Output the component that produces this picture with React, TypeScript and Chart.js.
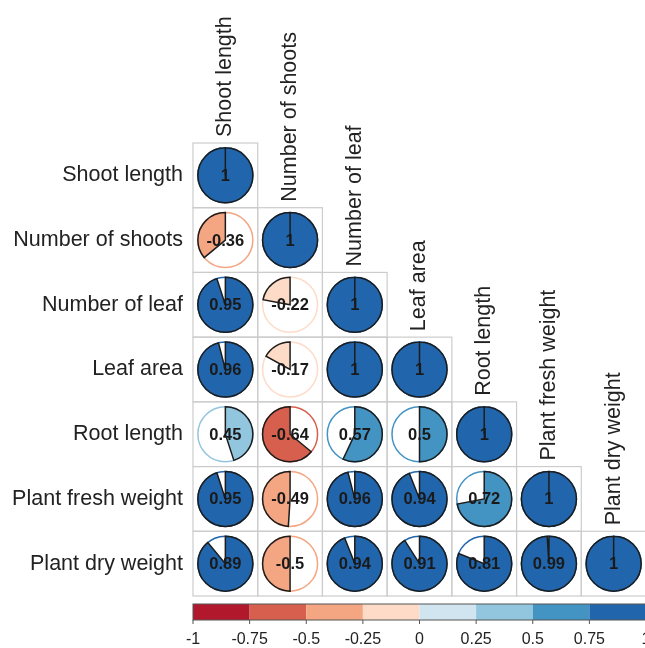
import React, { useEffect, useRef } from "react";
import { Chart, registerables } from "chart.js";

Chart.register(...registerables);

// ---- DATA ----
const variables = [
  "Shoot length",
  "Number of shoots",
  "Number of leaf",
  "Leaf area",
  "Root length",
  "Plant fresh weight",
  "Plant dry weight",
];

const rowShootLength = [1];
const rowNumberOfShoots = [-0.36, 1];
const rowNumberOfLeaf = [0.95, -0.22, 1];
const rowLeafArea = [0.96, -0.17, 1, 1];
const rowRootLength = [0.45, -0.64, 0.57, 0.5, 1];
const rowPlantFreshWeight = [0.95, -0.49, 0.96, 0.94, 0.72, 1];
const rowPlantDryWeight = [0.89, -0.5, 0.94, 0.91, 0.81, 0.99, 1];

const correlationRows = [
  rowShootLength,
  rowNumberOfShoots,
  rowNumberOfLeaf,
  rowLeafArea,
  rowRootLength,
  rowPlantFreshWeight,
  rowPlantDryWeight,
];

const colorbarTicks = [-1, -0.75, -0.5, -0.25, 0, 0.25, 0.5, 0.75, 1];
const colorbarTickLabels = ["-1", "-0.75", "-0.5", "-0.25", "0", "0.25", "0.5", "0.75", "1"];
const binColors = [
  "#B2182B",
  "#D6604D",
  "#F4A582",
  "#FDDBC7",
  "#D1E5F0",
  "#92C5DE",
  "#4393C3",
  "#2166AC",
];

const FONT = "'Liberation Sans', Arial, Helvetica, sans-serif";

function binColor(r: number): string {
  let k = Math.floor((r + 1) / 0.25);
  if (k < 0) k = 0;
  if (k > binColors.length - 1) k = binColors.length - 1;
  return binColors[k];
}

const corrPlugin = {
  id: "corrPies",
  afterDraw(chart: any) {
    const ctx: CanvasRenderingContext2D = chart.ctx;
    const xs = chart.scales.x;
    const ys = chart.scales.y;
    const xc = chart.scales.xc;
    const ca = chart.chartArea;
    const cellW = xs.getPixelForValue(1) - xs.getPixelForValue(0);
    const cellH = ys.getPixelForValue(1) - ys.getPixelForValue(0);
    const pts = chart.data.datasets[0].data as any[];

    ctx.save();
    // cells
    ctx.strokeStyle = "#cccccc";
    ctx.lineWidth = 1.2;
    pts.forEach((p) => {
      const x0 = xs.getPixelForValue(p.x - 0.5);
      const y0 = ys.getPixelForValue(p.y - 0.5);
      ctx.strokeRect(x0, y0, cellW, cellH);
    });

    // pies
    const R = Math.min(cellW, cellH) * 0.425;
    pts.forEach((p) => {
      const cx = xs.getPixelForValue(p.x);
      const cy = ys.getPixelForValue(p.y);
      const col = binColor(p.r);
      ctx.beginPath();
      ctx.arc(cx, cy, R, 0, Math.PI * 2);
      ctx.fillStyle = "#ffffff";
      ctx.fill();
      ctx.strokeStyle = col;
      ctx.lineWidth = 1.5;
      ctx.stroke();

      const start = -Math.PI / 2;
      const sweep = Math.PI * 2 * Math.abs(p.r);
      ctx.beginPath();
      ctx.moveTo(cx, cy);
      if (p.r >= 0) ctx.arc(cx, cy, R, start, start + sweep, false);
      else ctx.arc(cx, cy, R, start, start - sweep, true);
      ctx.closePath();
      ctx.fillStyle = col;
      ctx.fill();
      ctx.strokeStyle = "#1c1c1c";
      ctx.lineWidth = 1.5;
      ctx.stroke();

      ctx.fillStyle = "#1a1a1a";
      ctx.font = `bold 16.5px ${FONT}`;
      ctx.textAlign = "center";
      ctx.textBaseline = "middle";
      ctx.fillText(String(p.r), cx, cy + 1);
    });

    // row labels
    ctx.fillStyle = "#222222";
    ctx.font = `21.5px ${FONT}`;
    ctx.textAlign = "right";
    ctx.textBaseline = "middle";
    variables.forEach((v, i) => {
      ctx.fillText(v, ca.left - 10, ys.getPixelForValue(i + 0.5));
    });

    // column labels (rotated)
    ctx.textAlign = "left";
    variables.forEach((v, j) => {
      const x = xs.getPixelForValue(j + 0.5);
      const y = ys.getPixelForValue(j) - 6;
      ctx.save();
      ctx.translate(x, y);
      ctx.rotate(-Math.PI / 2);
      ctx.fillText(v, 0, 0);
      ctx.restore();
    });

    // colorbar
    const cy0 = ca.bottom + 8;
    const cy1 = ca.bottom + 24;
    for (let k = 0; k < binColors.length; k++) {
      const a = xc.getPixelForValue(colorbarTicks[k]);
      const b = xc.getPixelForValue(colorbarTicks[k + 1]);
      ctx.fillStyle = binColors[k];
      ctx.fillRect(a, cy0, b - a, cy1 - cy0);
    }
    ctx.strokeStyle = "#555555";
    ctx.lineWidth = 1;
    const left = xc.getPixelForValue(-1);
    const right = xc.getPixelForValue(1);
    ctx.strokeRect(left, cy0, right - left, cy1 - cy0);
    colorbarTicks.forEach((t) => {
      const x = xc.getPixelForValue(t);
      ctx.beginPath();
      ctx.moveTo(x, cy1);
      ctx.lineTo(x, cy1 + 4);
      ctx.stroke();
    });
    ctx.restore();
  },
};

export default function App() {
  const ref = useRef<HTMLCanvasElement | null>(null);

  useEffect(() => {
    if (!ref.current) return;
    const points: any[] = [];
    correlationRows.forEach((row, i) => {
      row.forEach((r, j) => {
        points.push({ x: j + 0.5, y: i + 0.5, r });
      });
    });

    const chart = new Chart(ref.current, {
      type: "scatter",
      data: {
        datasets: [
          {
            data: points,
            pointRadius: 0,
            pointHoverRadius: 0,
            backgroundColor: "transparent",
          },
        ],
      },
      options: {
        responsive: false,
        animation: false,
        events: [],
        layout: { padding: { left: 193, top: 143, right: 40, bottom: 0 } },
        plugins: {
          legend: { display: false },
          tooltip: { enabled: false },
        },
        scales: {
          x: { type: "linear", min: 0, max: 7, display: false },
          y: { type: "linear", min: 0, max: 7, reverse: true, display: false },
          xc: {
            type: "linear",
            position: "bottom",
            axis: "x",
            min: -1,
            max: 1,
            afterBuildTicks: (scale: any) => {
              scale.ticks = colorbarTicks.map((v) => ({ value: v }));
            },
            afterFit: (scale: any) => {
              scale.height = 52;
            },
            grid: { display: false, drawTicks: false },
            border: { display: false },
            ticks: {
              autoSkip: false,
              maxRotation: 0,
              minRotation: 0,
              padding: 34,
              color: "#222222",
              font: { family: FONT, size: 16 },
              callback: (_v: any, index: number) => colorbarTickLabels[index],
            },
          },
        },
      },
      plugins: [corrPlugin],
    } as any);
    return () => chart.destroy();
  }, []);

  return (
    <div
      style={{
        position: "fixed",
        left: 0,
        top: 0,
        width: 645,
        height: 648,
        overflow: "hidden",
        background: "#ffffff",
      }}
    >
      <canvas ref={ref} width={686} height={648} style={{ display: "block" }} />
    </div>
  );
}
